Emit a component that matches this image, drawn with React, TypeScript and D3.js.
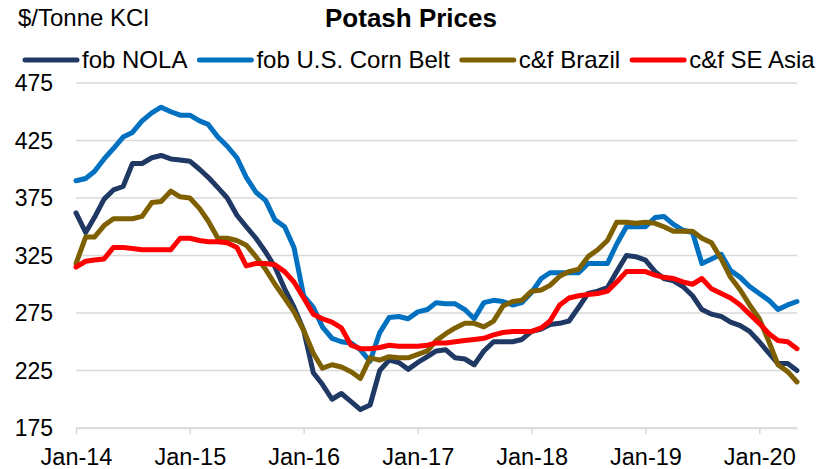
import React, { useEffect, useRef } from "react";
import * as d3 from "d3";

// Monthly readings, Jan-14 .. May-20 ($/tonne KCl)
const startMonth = new Date(2014, 0, 1);
const endMonth = new Date(2020, 4, 1);

const fobNola = [
  362, 345, 358, 374, 382, 385, 405, 405, 410, 412, 409, 408,
  407, 400, 393, 384, 375, 360, 350, 340, 328, 315, 296, 280,
  260, 223, 213, 200, 205, 198, 191, 195, 225, 234, 232, 226,
  232, 237, 242, 243, 236, 235, 230, 242, 250, 250, 250, 252,
  259, 261, 265, 266, 268, 280, 292, 294, 297, 311, 325, 324,
  321, 311, 305, 303, 298, 290, 278, 274, 272, 267, 264, 259,
  250, 240, 231, 231, 225,
];

const fobCornBelt = [
  390, 392, 398, 409, 418, 428, 432, 442, 449, 454, 450, 447,
  447, 442, 439, 428, 420, 410, 393, 380, 373, 356, 350, 332,
  290, 280, 263, 253, 250, 249, 243, 233, 258, 271, 272, 270,
  276, 278, 284, 283, 283, 278, 270, 284, 286, 285, 282, 284,
  293, 305, 310, 310, 310, 310, 318, 318, 318, 335, 350, 350,
  350, 358, 359, 352, 347, 345, 318, 322, 326, 312, 306, 298,
  292, 286, 278, 282, 285,
];

const cfBrazil = [
  318, 341, 341, 351, 357, 357, 357, 359, 371, 372, 381, 376,
  375, 366, 355, 340, 340, 338, 334, 324, 313, 300, 288, 276,
  260, 240, 227, 230, 228, 224, 218, 236, 234, 237, 236, 236,
  239, 242, 251, 257, 262, 266, 266, 263, 268, 281, 285, 286,
  294, 295, 299, 307, 311, 313, 324, 330, 338, 354, 354, 353,
  354, 353, 350, 346, 346, 346, 340, 336, 322, 306, 295, 282,
  270, 250, 230, 224, 215,
];

const cfSeAsia = [
  315, 320, 321, 322, 332, 332, 331, 330, 330, 330, 330, 340,
  340, 338, 337, 337, 336, 332, 316, 318, 318, 317, 311, 302,
  288, 274, 270, 267, 262, 247, 244, 244, 245, 247, 246, 246,
  246, 247, 249, 249, 250, 251, 252, 253, 256, 258, 259, 259,
  259, 262, 268, 282, 288, 290, 291, 292, 294, 302, 311, 311,
  311, 308, 306, 305, 302, 300, 305, 296, 292, 288, 282, 274,
  266, 257, 251, 250, 244,
];

const seriesNames = ["fob NOLA", "fob U.S. Corn Belt", "c&f Brazil", "c&f SE Asia"];
const seriesValues = [fobNola, fobCornBelt, cfBrazil, cfSeAsia];
const seriesColors = ["#1F3864", "#0070C0", "#7F6000", "#FF0000"];

const yTicks = [175, 225, 275, 325, 375, 425, 475];
const xTickYears = [2014, 2015, 2016, 2017, 2018, 2019, 2020];

const font = "'Liberation Sans', Arial, sans-serif";

const PotashChart: React.FC = () => {
  const svgRef = useRef<SVGSVGElement>(null);

  useEffect(() => {
    const width = 825;
    const height = 469;
    const margin = { top: 83, right: 28, bottom: 41, left: 76 };

    const svg = d3.select(svgRef.current).attr("width", width).attr("height", height);
    svg.selectAll("*").remove();

    const x = d3
      .scaleTime()
      .domain([startMonth, endMonth])
      .range([margin.left, width - margin.right]);
    const y = d3
      .scaleLinear()
      .domain([175, 475])
      .range([height - margin.bottom, margin.top]);

    // Grid lines
    svg
      .append("g")
      .selectAll("line")
      .data(yTicks)
      .join("line")
      .attr("x1", margin.left)
      .attr("x2", width - margin.right)
      .attr("y1", (d) => y(d))
      .attr("y2", (d) => y(d))
      .attr("stroke", "#D9D9D9")
      .attr("stroke-width", 1.5);

    // Y labels
    svg
      .append("g")
      .selectAll("text")
      .data(yTicks)
      .join("text")
      .attr("x", 53)
      .attr("y", (d) => y(d))
      .attr("dy", "0.36em")
      .attr("text-anchor", "end")
      .style("font-family", font)
      .style("font-size", "23px")
      .attr("fill", "#000")
      .text((d) => d);

    // X axis
    const xTicks = xTickYears.map((yr) => new Date(yr, 0, 1));
    const xAxis = svg
      .append("g")
      .attr("transform", `translate(0, ${y(175)})`)
      .call(
        d3
          .axisBottom(x)
          .tickValues(xTicks)
          .tickSize(6)
          .tickSizeOuter(0)
          .tickPadding(14)
          .tickFormat((d) => d3.timeFormat("%b-%y")(d as Date)),
      );
    xAxis.select(".domain").attr("stroke", "#D9D9D9").attr("stroke-width", 1.5);
    xAxis.selectAll(".tick line").attr("stroke", "#D9D9D9").attr("stroke-width", 1.5);
    xAxis
      .selectAll(".tick text")
      .style("font-family", font)
      .style("font-size", "23.5px")
      .attr("fill", "#000");

    // Series lines
    const months = d3.range(fobNola.length).map((i) => d3.timeMonth.offset(startMonth, i));
    const line = d3
      .line<number>()
      .x((_, i) => x(months[i]))
      .y((d) => y(d));
    seriesValues.forEach((vals, i) => {
      svg
        .append("path")
        .datum(vals)
        .attr("fill", "none")
        .attr("stroke", seriesColors[i])
        .attr("stroke-width", 5)
        .attr("stroke-linejoin", "round")
        .attr("stroke-linecap", "round")
        .attr("d", line);
    });

    // Title and unit
    svg
      .append("text")
      .attr("x", 411)
      .attr("y", 27)
      .attr("text-anchor", "middle")
      .style("font-family", font)
      .style("font-size", "26px")
      .style("font-weight", "bold")
      .attr("fill", "#000")
      .text("Potash Prices");
    svg
      .append("text")
      .attr("x", 18)
      .attr("y", 26)
      .style("font-family", font)
      .style("font-size", "24px")
      .attr("fill", "#000")
      .text("$/Tonne KCl");

    // Legend
    let lx = 23;
    seriesNames.forEach((name, i) => {
      svg
        .append("line")
        .attr("x1", lx + 2)
        .attr("x2", lx + 54)
        .attr("y1", 60)
        .attr("y2", 60)
        .attr("stroke", seriesColors[i])
        .attr("stroke-width", 5)
        .attr("stroke-linecap", "round");
      const t = svg
        .append("text")
        .attr("x", lx + 59)
        .attr("y", 68)
        .style("font-family", font)
        .style("font-size", "24px")
        .attr("fill", "#000")
        .text(name);
      const w = (t.node() as SVGTextElement).getComputedTextLength();
      lx = lx + 59 + w + 10;
    });
  }, []);

  return <svg ref={svgRef} style={{ position: "absolute", left: 0, top: 0 }} />;
};

export default function App() {
  return <PotashChart />;
}
